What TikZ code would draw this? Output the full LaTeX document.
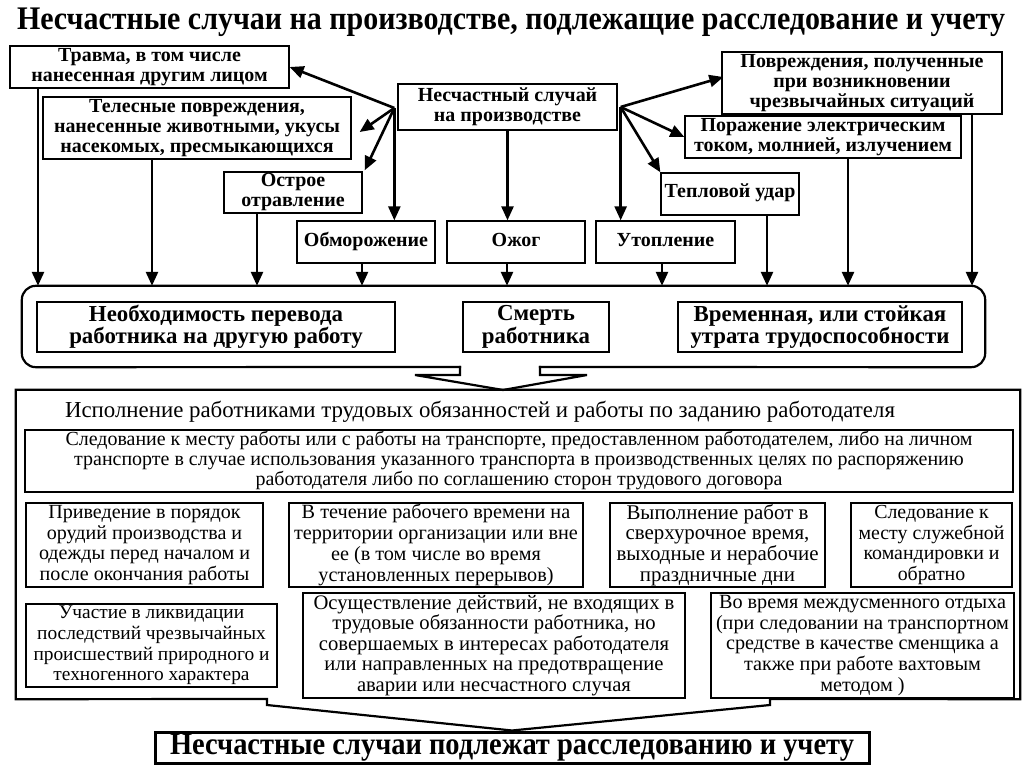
\documentclass[tikz,border=0pt]{standalone}
\usepackage{fontspec}
\setmainfont{Liberation Serif}
\usetikzlibrary{arrows.meta,calc}
\newcommand{\fsz}[2]{\fontsize{#1}{#2}\selectfont}
\newlength\tmplen
\newcommand\fitsize[3]{\settowidth\tmplen{\fontsize{10}{12}\selectfont#3}\pgfmathsetmacro#1{10*#2/\tmplen}}
\begin{document}
\fitsize\szTitle{988}{\bfseries Несчастные случаи на производстве, подлежащие расследование и учету}%
\fitsize\szTop{286}{\bfseries нанесенные животными, укусы}%
\fitsize\szMid{259}{\bfseries утрата трудоспособности}%
\fitsize\szHdr{830}{Исполнение работниками трудовых обязанностей и работы по заданию работодателя}%
\fitsize\szSl{907}{Следование к месту работы или с работы на транспорте, предоставленном работодателем, либо на личном}%
\fitsize\szRa{211}{одежды перед началом и}%
\fitsize\szRb{284}{территории организации или вне}%
\fitsize\szRc{202}{выходные и нерабочие}%
\fitsize\szRd{146}{месту служебной}%
\fitsize\szUa{236}{происшествий природного и}%
\fitsize\szUb{361}{Осуществление действий, не входящих в}%
\fitsize\szUc{293}{(при следовании на транспортном}%
\fitsize\szFin{684}{\bfseries Несчастные случаи подлежат расследованию и учету}%
\begin{tikzpicture}[x=1pt,y=-1pt,
  topbox/.style={draw, line width=1.3pt, inner sep=0pt, align=center,
    font=\fsz{\szTop}{20}\bfseries},
  midbox/.style={draw, line width=2.8pt, inner sep=0pt, align=center,
    font=\fsz{\szMid}{22.5}\bfseries},
  lowbox/.style={draw, line width=2.4pt, inner sep=0pt, align=center},
  arr/.style={line width=2.6pt, -{Triangle[length=14pt,width=12pt]}},
  outl/.style={line width=2.2pt, line cap=rect, line join=miter}]
\useasboundingbox (0,0) rectangle (1024,767);

% title
\node[font=\fsz{\szTitle}{32}\bfseries, inner sep=0pt] (title) at (511,22)
  {\scalebox{1}[1.1]{Несчастные случаи на производстве, подлежащие расследование и учету}};

% top boxes
\node[topbox, minimum width=279pt, minimum height=42pt] (tr) at (149.5,67)
  {Травма, в том числе\\нанесенная другим лицом};
\node[topbox, minimum width=308pt, minimum height=62pt] (tel) at (197,128)
  {Телесные повреждения,\\нанесенные животными, укусы\\насекомых, пресмыкающихся};
\node[topbox, minimum width=138pt, minimum height=41pt] (ostr) at (293,192.5)
  {Острое\\отравление};
\node[topbox, minimum width=138pt, minimum height=42pt] (obm) at (366,242)
  {\strut Обморожение};
\node[topbox, minimum width=219pt, minimum height=46pt] (src) at (507.5,107)
  {Несчастный случай\\на производстве};
\node[topbox, minimum width=138pt, minimum height=42pt] (ozh) at (516,242)
  {\strut Ожог};
\node[topbox, minimum width=139pt, minimum height=42pt] (utop) at (665.5,242)
  {\strut Утопление};
\node[topbox, minimum width=138pt, minimum height=42pt] (tepl) at (730,194)
  {\strut Тепловой удар};
\node[topbox, minimum width=276pt, minimum height=42pt] (por) at (823,137)
  {Поражение электрическим\\током, молнией, излучением};
\node[topbox, minimum width=280pt, minimum height=62pt] (povr) at (862,83)
  {Повреждения, полученные\\при возникновении\\чрезвычайных ситуаций};

% hubs
\coordinate (L) at ($(src.west)+(-3,1)$);
\coordinate (R) at ($(src.east)+(3,0)$);

\draw[arr] (L) -- (tr.east);
\draw[arr] (L) -- ($(tel.east)+(8,4)$);
\draw[arr] (L) -- ($(ostr.north east)+(2,-1)$);
\draw[arr] (L) -- (L |- obm.north);
\draw[arr] (src.south) -- (src.south |- ozh.north);
\draw[arr] (R) -- ($(povr.west)+(2,-6)$);
\draw[arr] (R) -- (por.west);
\draw[arr] (R) -- (tepl.north west);
\draw[arr] (R) -- (R |- utop.north);

% rounded frame
\node[minimum width=963pt, minimum height=81pt, inner sep=0pt] (rr) at (503.5,326.5) {};
\draw[outl, rounded corners=14pt] (540,367) -- (rr.south east) -- (rr.north east)
  -- (rr.north west) -- (rr.south west) -- (460,367);
\coordinate (ap1) at (503,390);
\draw[outl] (460,367) -- (460,375) -- (415,375) -- (ap1) -- (587,375) -- (540,375) -- (540,367);

% down arrows to frame
\coordinate (d1) at (38,0);
\coordinate (d2) at (152,0);
\coordinate (d3) at (257,0);
\coordinate (d4) at (362,0);
\coordinate (d5) at (507,0);
\coordinate (d6) at (662,0);
\coordinate (d7) at (767,0);
\coordinate (d8) at (848,0);
\coordinate (d9) at (972,0);
\draw[arr] (d1 |- tr.south) -- (d1 |- rr.north);
\draw[arr] (d2 |- tel.south) -- (d2 |- rr.north);
\draw[arr] (d3 |- ostr.south) -- (d3 |- rr.north);
\draw[arr] (d4 |- obm.south) -- (d4 |- rr.north);
\draw[arr] (d5 |- ozh.south) -- (d5 |- rr.north);
\draw[arr] (d6 |- utop.south) -- (d6 |- rr.north);
\draw[arr] (d7 |- tepl.south) -- (d7 |- rr.north);
\draw[arr] (d8 |- por.south) -- (d8 |- rr.north);
\draw[arr] (d9 |- povr.south) -- (d9 |- rr.north);

% consequence boxes
\node[midbox, minimum width=358pt, minimum height=50pt] (nb1) at (216,327)
  {Необходимость перевода\\работника на другую работу};
\node[midbox, minimum width=146pt, minimum height=50pt] (nb2) at (536,327)
  {Смерть\\работника};
\node[midbox, minimum width=284pt, minimum height=50pt] (nb3) at (820,327)
  {Временная, или стойкая\\утрата трудоспособности};

% big frame
\node[minimum width=1004pt, minimum height=309pt, inner sep=0pt] (bb) at (518,544.5) {};
\node[lowbox, line width=3pt, font=\fsz{\szFin}{30}\bfseries,
  minimum width=714pt, minimum height=31pt] (fin) at (512,747.5)
  {\scalebox{1}[1.1]{Несчастные случаи подлежат расследованию и учету}};
\draw[outl] (770,705) -- (770,699) -- (bb.south east) -- (bb.north east)
  -- (bb.north west) -- (bb.south west) -- (267,699) -- (267,705) -- (fin.north) -- cycle;

\node[font=\fsz{\szHdr}{24}] (hdr) at (480,412)
  {Исполнение работниками трудовых обязанностей и работы по заданию работодателя};

\node[lowbox, font=\fsz{\szSl}{20}, minimum width=988pt, minimum height=62pt] (sl) at (519,461)
  {Следование к месту работы или с работы на транспорте, предоставленном работодателем, либо на личном\\
   транспорте в случае использования указанного транспорта в производственных целях по распоряжению\\
   работодателя либо по соглашению сторон трудового договора};

\node[lowbox, font=\fsz{\szRa}{20.8}, minimum width=237pt, minimum height=84pt] (r1) at (144.5,545)
  {Приведение в порядок\\орудий производства и\\одежды перед началом и\\после окончания работы};
\node[lowbox, font=\fsz{\szRb}{20.8}, minimum width=294pt, minimum height=84pt] (r2) at (436,545)
  {В течение рабочего времени на\\территории организации или вне\\ее (в том числе во время\\установленных перерывов)};
\node[lowbox, font=\fsz{\szRc}{20.8}, minimum width=215pt, minimum height=84pt] (r3) at (717.5,545)
  {Выполнение работ в\\сверхурочное время,\\выходные и нерабочие\\праздничные дни};
\node[lowbox, font=\fsz{\szRd}{20.8}, minimum width=161pt, minimum height=84pt] (r4) at (931.5,545)
  {Следование к\\месту служебной\\командировки и\\обратно};

\node[lowbox, font=\fsz{\szUa}{20.8}, minimum width=251pt, minimum height=83pt] (u1) at (151.5,645.5)
  {Участие в ликвидации\\последствий чрезвычайных\\происшествий природного и\\техногенного характера};
\node[lowbox, font=\fsz{\szUb}{20.6}, minimum width=382pt, minimum height=105pt] (u2) at (494,645.5)
  {Осуществление действий, не входящих в\\трудовые обязанности работника, но\\совершаемых в интересах работодателя\\или направленных на предотвращение\\аварии или несчастного случая};
\node[lowbox, font=\fsz{\szUc}{20.6}, minimum width=303pt, minimum height=105pt] (u3) at (862.5,645.5)
  {Во время междусменного отдыха\\(при следовании на транспортном\\средстве в качестве сменщика а\\также при работе вахтовым\\методом )};
\end{tikzpicture}
\end{document}
